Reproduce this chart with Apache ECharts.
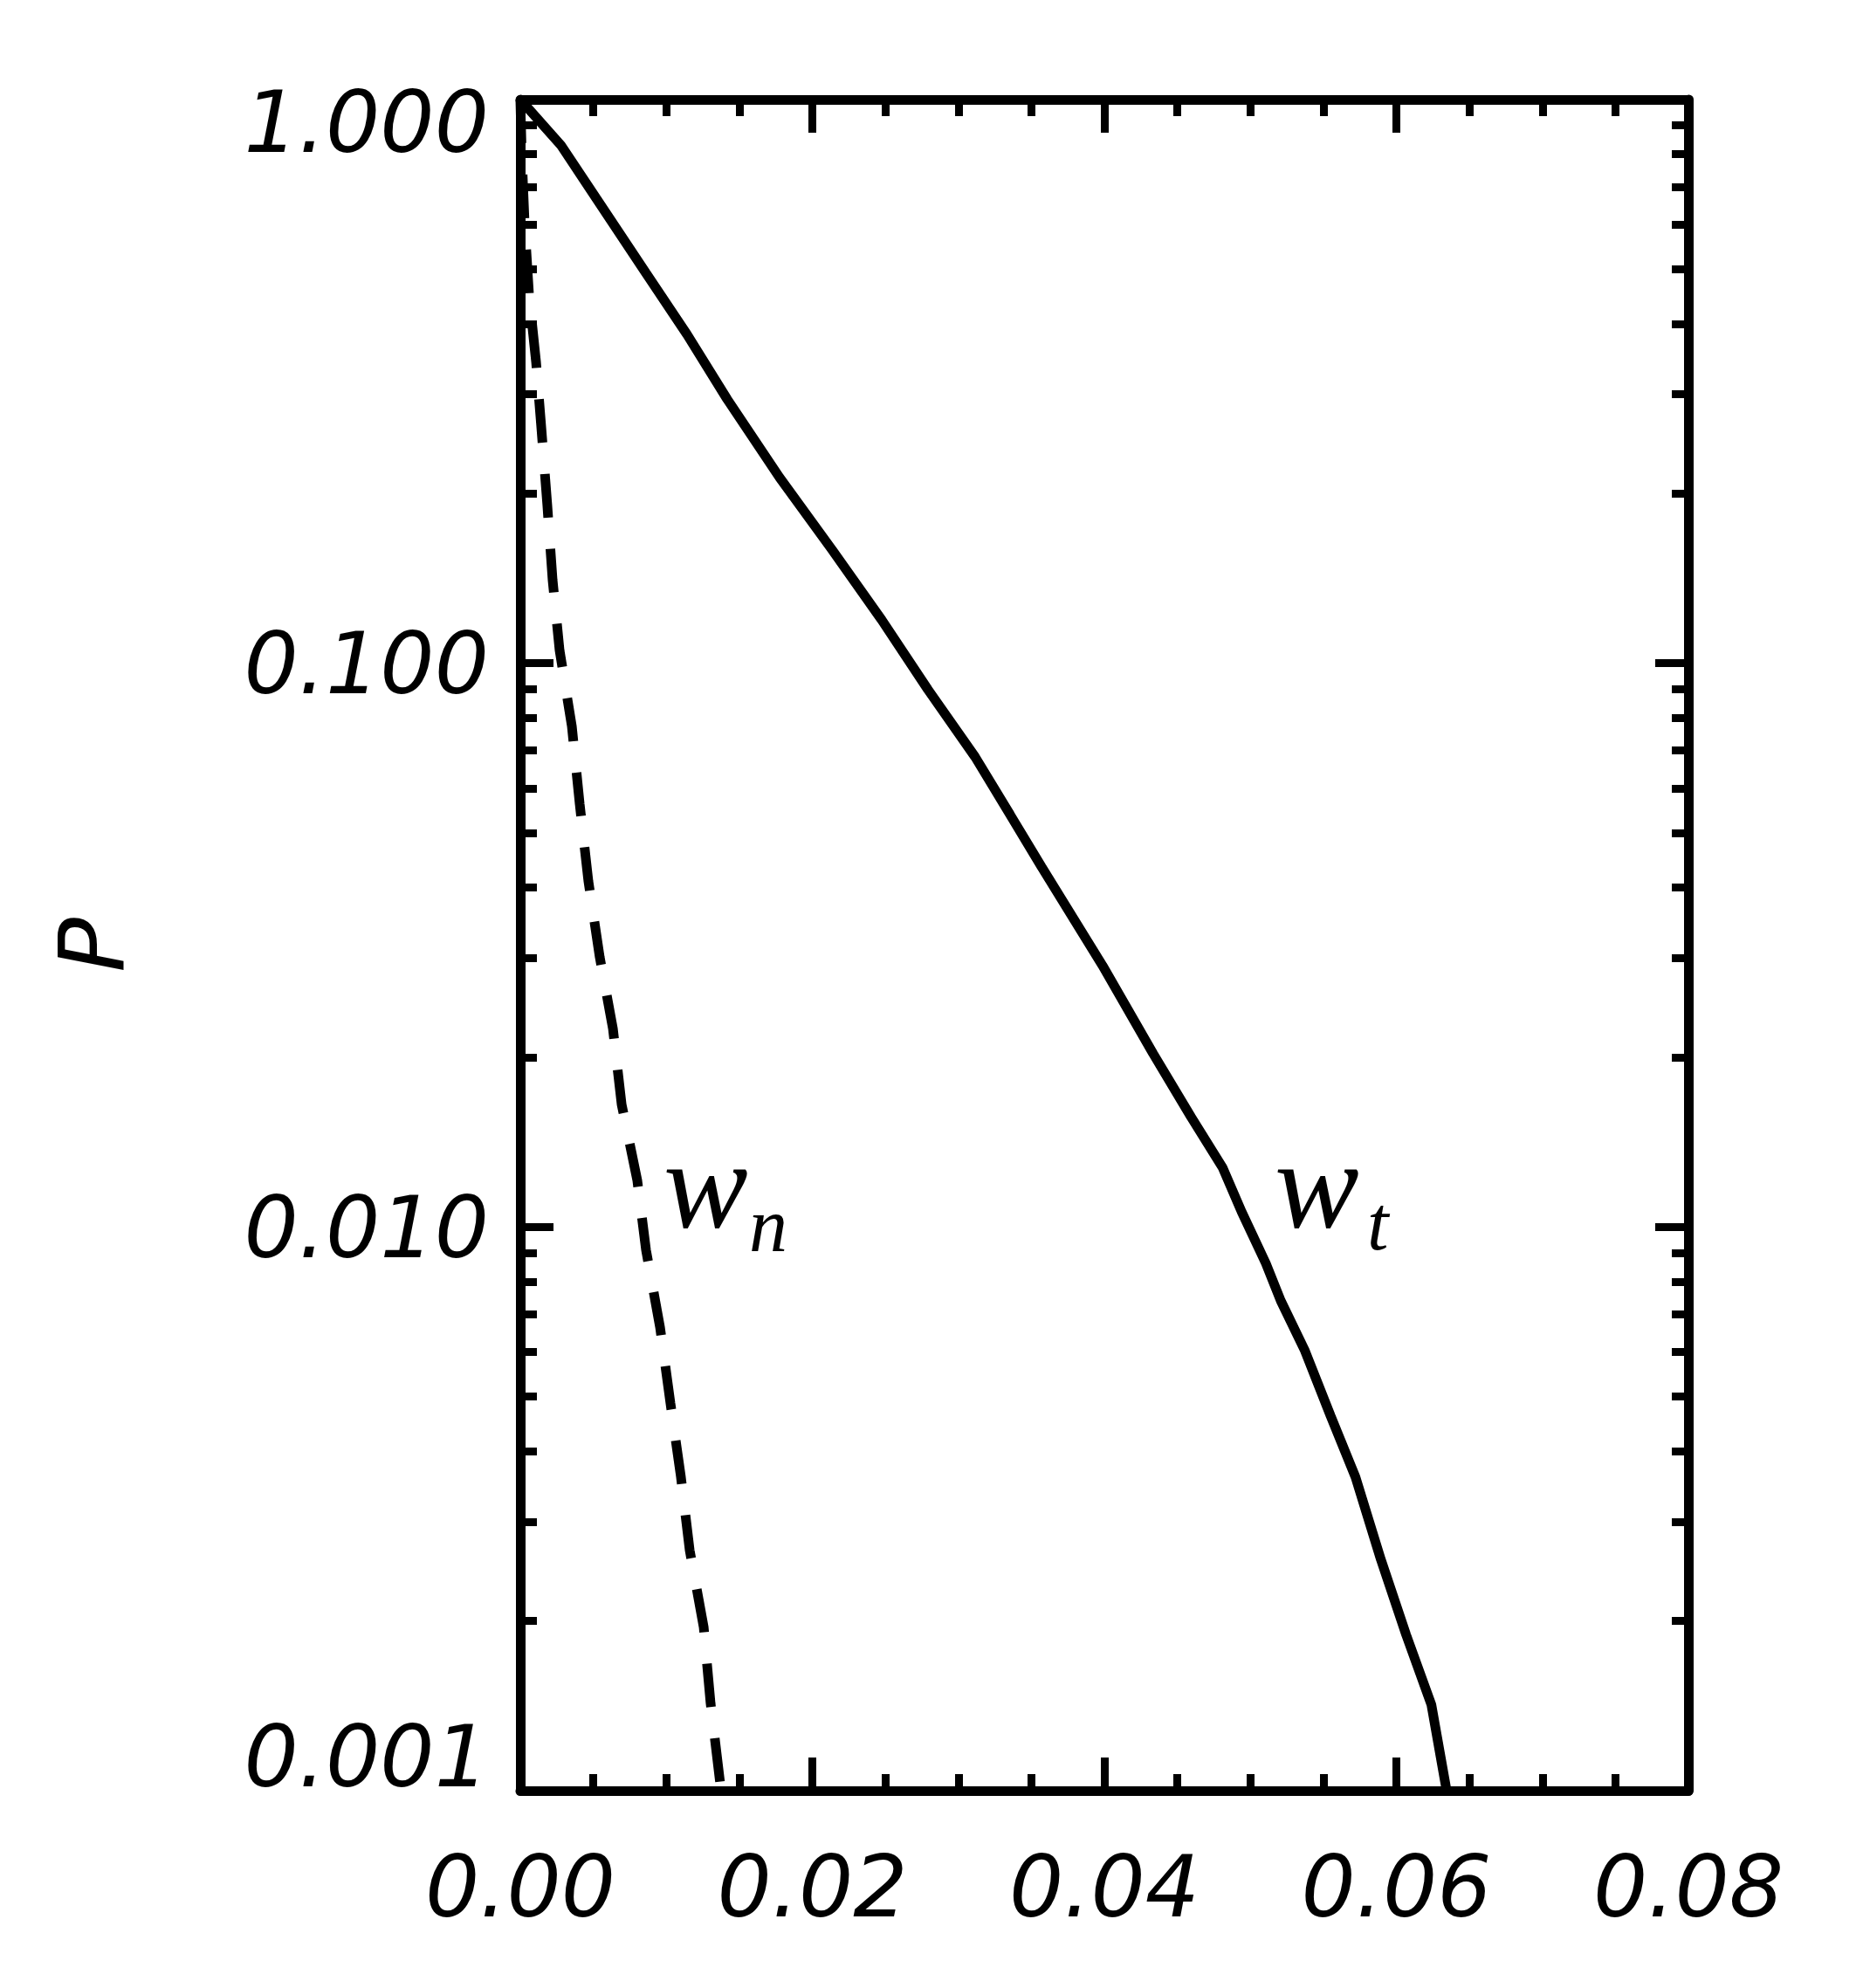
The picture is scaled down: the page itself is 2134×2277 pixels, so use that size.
<!DOCTYPE html>
<html>
<head>
<meta charset="utf-8">
<script src="https://cdn.jsdelivr.net/npm/echarts@6/dist/echarts.min.js"></script>
<style>
  html, body { margin: 0; padding: 0; background: #fff; }
  #main { width: 2134px; height: 2277px; }
</style>
</head>
<body>
<div id="main"></div>
<script>
// w_t curve (solid)
const wtX = [0, 0.00281, 0.00520, 0.00861, 0.01142, 0.01417, 0.01776, 0.02135, 0.02475, 0.02792,
  0.03115, 0.03354, 0.03571, 0.03987, 0.04334, 0.04594, 0.04810, 0.04940,
  0.05106, 0.05208, 0.05374, 0.05550, 0.05720, 0.05894, 0.06067, 0.06240, 0.06344];
const wtP = [1, 0.828, 0.668, 0.492, 0.383, 0.294, 0.2135, 0.159, 0.1194, 0.0898,
  0.0682, 0.0539, 0.0435, 0.0291, 0.0203, 0.01567, 0.01274, 0.01064,
  0.00862, 0.00740, 0.00603, 0.00462, 0.00360, 0.00257, 0.00189, 0.00142, 0.001];

// w_n curve (dashed)
const wnX = [0, 0.0001, 0.0003, 0.0006, 0.00108, 0.00143, 0.00185, 0.00221, 0.00269, 0.00353,
  0.00407, 0.00466, 0.00544, 0.00634, 0.00694, 0.00801, 0.00861, 0.00957, 0.01028, 0.01100,
  0.01160, 0.01256, 0.01303, 0.01375];
const wnP = [1, 0.8, 0.6, 0.45, 0.342, 0.2634, 0.1905, 0.1406, 0.1054, 0.0773,
  0.0562, 0.0411, 0.0301, 0.0225, 0.01649, 0.01210, 0.00910, 0.00664, 0.00487, 0.00360,
  0.00267, 0.00195, 0.00143, 0.001];

// axis ranges
const xRange = [0, 0.08];
const xStep = 0.02;
const pRange = [0.001, 1];

const zip = (xs, ys) => xs.map((x, i) => [x, ys[i]]);

const black = '#000';
const labelFont = { fontSize: 98, fontStyle: 'italic', fontFamily: 'DejaVu Sans', color: black };

function xAxisCfg(pos, showLabel) {
  return {
    type: 'value',
    position: pos,
    min: xRange[0],
    max: xRange[1],
    interval: xStep,
    axisLine: { show: true, onZero: false, lineStyle: { color: black, width: 11 } },
    axisTick: { show: true, inside: true, length: 38, lineStyle: { color: black, width: 9 } },
    minorTick: { show: true, splitNumber: 4, length: 19, lineStyle: { color: black, width: 9 } },
    splitLine: { show: false },
    axisLabel: Object.assign({ show: showLabel, margin: 70, formatter: (v) => v.toFixed(2) }, labelFont),
  };
}

function yAxisCfg(pos, showLabel) {
  return {
    type: 'log',
    logBase: 10,
    position: pos,
    min: pRange[0],
    max: pRange[1],
    axisLine: { show: true, onZero: false, lineStyle: { color: black, width: 11 } },
    axisTick: { show: true, inside: true, length: 38, lineStyle: { color: black, width: 9 } },
    minorTick: { show: true, splitNumber: 9, length: 19, lineStyle: { color: black, width: 9 } },
    splitLine: { show: false },
    axisLabel: Object.assign({
      show: showLabel,
      margin: 36,
      formatter: (v) => {
        const e = Math.round(Math.log10(v));
        const s = Math.pow(10, e).toFixed(3);
        if (e >= 0) return '{t|' + s + '}';
        if (e <= -3) return '{b|' + s + '}';
        return '{m|' + s + '}';
      },
      rich: {
        t: Object.assign({ padding: [70, 0, 0, 0] }, labelFont),
        m: Object.assign({ padding: [18, 0, 0, 0] }, labelFont),
        b: Object.assign({ padding: [0, 0, 60, 0] }, labelFont),
      },
    }, labelFont),
  };
}

const chart = echarts.init(document.getElementById('main'));

const yLeft = yAxisCfg('left', true);
yLeft.name = 'P';
yLeft.nameLocation = 'middle';
yLeft.nameRotate = 90;
yLeft.nameGap = 430;
yLeft.nameTextStyle = { fontSize: 104, fontStyle: 'italic', fontFamily: 'DejaVu Sans', color: black };

const wFont = 'italic 145px "Liberation Serif"';
const subFont = 'italic 88px "Liberation Serif"';

chart.setOption({
  animation: false,
  backgroundColor: '#fff',
  grid: { left: 596, right: 200, top: 114, bottom: 226, containLabel: false },
  xAxis: [xAxisCfg('bottom', true), xAxisCfg('top', false)],
  yAxis: [yLeft, yAxisCfg('right', false)],
  series: [
    {
      name: 'w_t',
      type: 'line',
      data: zip(wtX, wtP),
      showSymbol: false,
      symbol: 'none',
      lineStyle: { color: black, width: 11, type: 'solid' },
      z: 3,
    },
    {
      name: 'w_n',
      type: 'line',
      data: zip(wnX, wnP),
      showSymbol: false,
      symbol: 'none',
      lineStyle: { color: black, width: 11, type: [50, 36] },
      z: 3,
    },
  ],
  graphic: [
    { type: 'text', x: 760, y: 1368, style: { text: 'w', font: wFont, fill: black, verticalAlign: 'middle' } },
    { type: 'text', x: 858, y: 1410, style: { text: 'n', font: subFont, fill: black, verticalAlign: 'middle' } },
    { type: 'text', x: 1460, y: 1368, style: { text: 'w', font: wFont, fill: black, verticalAlign: 'middle' } },
    { type: 'text', x: 1566, y: 1408, style: { text: 't', font: subFont, fill: black, verticalAlign: 'middle' } },
  ],
});
</script>
</body>
</html>
